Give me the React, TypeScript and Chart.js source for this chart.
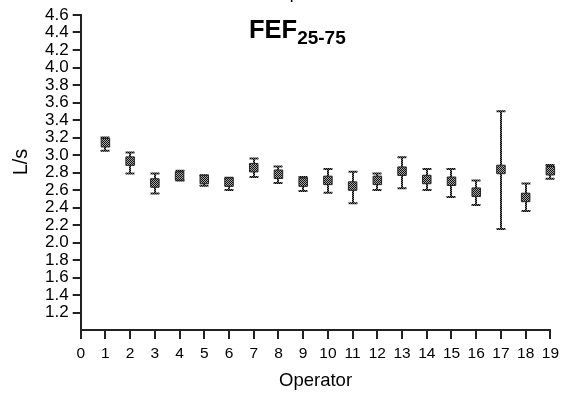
import React, { useEffect, useRef } from 'react';
import { Chart, registerables } from 'chart.js';

Chart.register(...registerables);

const operators = [1, 2, 3, 4, 5, 6, 7, 8, 9, 10, 11, 12, 13, 14, 15, 16, 17, 18, 19];
const means = [3.14, 2.93, 2.68, 2.76, 2.72, 2.69, 2.855, 2.78, 2.69, 2.71, 2.645, 2.71, 2.815, 2.72, 2.70, 2.575, 2.835, 2.515, 2.82];
const lows = [3.05, 2.79, 2.56, 2.71, 2.65, 2.60, 2.75, 2.68, 2.59, 2.57, 2.45, 2.60, 2.62, 2.60, 2.52, 2.43, 2.155, 2.36, 2.73];
const highs = [3.20, 3.03, 2.79, 2.82, 2.77, 2.74, 2.96, 2.87, 2.75, 2.84, 2.81, 2.79, 2.975, 2.84, 2.84, 2.71, 3.50, 2.675, 2.885];

const titleMain = 'FEF';
const titleSub = '25-75';
const xTitle = 'Operator';
const yTitle = 'L/s';
const topCutText = 'Operator';

const FONT = '"Liberation Sans", Arial, sans-serif';

function checker(a: string, b: string): CanvasPattern | string {
  const c = document.createElement('canvas');
  c.width = 2;
  c.height = 2;
  const g = c.getContext('2d');
  if (!g) return a;
  g.fillStyle = b;
  g.fillRect(0, 0, 2, 2);
  g.fillStyle = a;
  g.fillRect(0, 0, 1, 1);
  g.fillRect(1, 1, 1, 1);
  return g.createPattern(c, 'repeat') || a;
}

export default function App() {
  const ref = useRef<HTMLCanvasElement | null>(null);

  useEffect(() => {
    if (!ref.current) return;
    const markerFill = checker('#111111', '#a8a8a8');
    const barStroke = checker('#000000', '#707070');

    const errorBars = {
      id: 'errorBars',
      beforeDatasetsDraw(chart: any) {
        const { ctx, scales } = chart;
        const x = scales.x;
        const y = scales.y;
        ctx.save();
        ctx.strokeStyle = barStroke;
        ctx.lineWidth = 2;
        operators.forEach((op, i) => {
          const px = Math.round(x.getPixelForValue(op));
          const yl = y.getPixelForValue(lows[i]);
          const yh = y.getPixelForValue(highs[i]);
          ctx.beginPath();
          ctx.moveTo(px, yl);
          ctx.lineTo(px, yh);
          ctx.moveTo(px - 4.5, yl);
          ctx.lineTo(px + 4.5, yl);
          ctx.moveTo(px - 4.5, yh);
          ctx.lineTo(px + 4.5, yh);
          ctx.stroke();
        });
        ctx.restore();
      },
    };

    const texts = {
      id: 'texts',
      afterDraw(chart: any) {
        const { ctx, chartArea } = chart;
        ctx.save();
        ctx.fillStyle = '#000';
        // cut-off text at the very top
        ctx.font = `17px ${FONT}`;
        ctx.textAlign = 'center';
        ctx.textBaseline = 'alphabetic';
        ctx.fillText(topCutText, 310, -1.5);
        // title
        ctx.textAlign = 'left';
        ctx.font = `bold 25.5px ${FONT}`;
        const mainW = ctx.measureText(titleMain).width;
        const startX = 249;
        ctx.fillText(titleMain, startX, 38);
        ctx.font = `bold 19px ${FONT}`;
        ctx.fillText(titleSub, startX + mainW, 43.5);
        // x title
        ctx.font = `18.5px ${FONT}`;
        ctx.textAlign = 'center';
        ctx.textBaseline = 'middle';
        ctx.fillText(xTitle, (chartArea.left + chartArea.right) / 2, 381);
        // y title
        ctx.translate(21, 162);
        ctx.rotate(-Math.PI / 2);
        ctx.font = `20px ${FONT}`;
        ctx.fillText(yTitle, 0, 0);
        ctx.restore();
      },
    };

    const chart = new Chart(ref.current, {
      type: 'scatter',
      data: {
        datasets: [
          {
            data: operators.map((op, i) => ({ x: op, y: means[i] })),
            pointStyle: 'rect',
            pointRadius: 6,
            pointHoverRadius: 6,
            backgroundColor: markerFill as any,
            borderColor: '#222',
            borderWidth: 1,
            clip: false as any,
          },
        ],
      },
      options: {
        animation: false,
        responsive: false,
        events: [],
        layout: { padding: { top: 15, right: 10.7, bottom: 0, left: 0 } },
        plugins: {
          legend: { display: false },
          tooltip: { enabled: false },
          title: { display: false },
        },
        scales: {
          x: {
            type: 'linear',
            min: 0,
            max: 19,
            afterFit(scale: any) {
              scale.height = 71;
            },
            ticks: {
              stepSize: 1,
              autoSkip: false,
              maxRotation: 0,
              color: '#000',
              padding: 5,
              font: { family: FONT, size: 15.5 },
            },
            grid: {
              drawOnChartArea: false,
              drawTicks: true,
              tickLength: 9,
              color: '#222',
              lineWidth: 2,
            },
            border: { display: true, color: '#222', width: 2 },
          },
          y: {
            type: 'linear',
            min: 1.0,
            max: 4.6,
            afterFit(scale: any) {
              scale.width = 80.7;
            },
            afterBuildTicks(scale: any) {
              scale.ticks = scale.ticks.filter((t: any) => t.value > 1.05);
            },
            ticks: {
              stepSize: 0.2,
              autoSkip: false,
              color: '#000',
              padding: 4,
              font: { family: FONT, size: 17 },
              callback: (v: any) => Number(v).toFixed(1),
            },
            grid: {
              drawOnChartArea: false,
              drawTicks: true,
              tickLength: 8,
              color: '#222',
              lineWidth: 2,
            },
            border: { display: true, color: '#222', width: 2 },
          },
        },
      },
      plugins: [errorBars, texts],
    });

    return () => {
      chart.destroy();
    };
  }, []);

  return (
    <canvas
      ref={ref}
      width={564}
      height={401}
      style={{ position: 'absolute', left: 0, top: 0, width: 564, height: 401 }}
    />
  );
}
